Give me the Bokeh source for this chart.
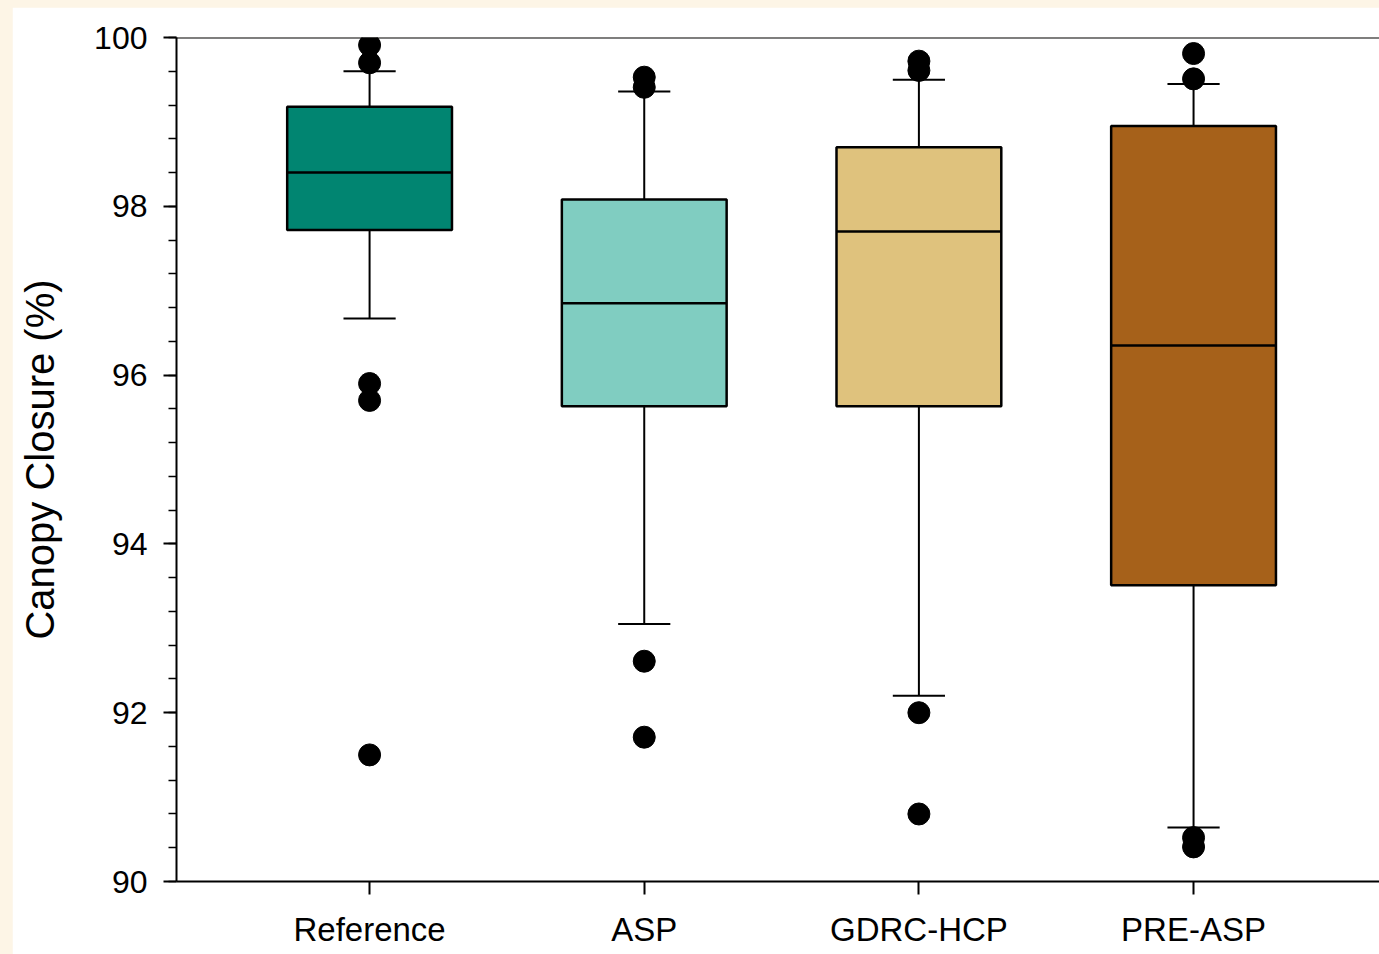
from bokeh.plotting import figure
from bokeh.models import Range1d, FixedTicker, Span
from bokeh.embed import file_html
from bokeh.resources import INLINE

categories = ["Reference", "ASP", "GDRC-HCP", "PRE-ASP"]
colors = ["#018571", "#80cdc1", "#dfc27d", "#a6611a"]
q1 = [97.72, 95.63, 95.63, 93.51]
median = [98.40, 96.85, 97.70, 96.35]
q3 = [99.18, 98.08, 98.70, 98.95]
lower_whisker = [96.67, 93.05, 92.20, 90.64]
upper_whisker = [99.60, 99.36, 99.50, 99.45]
outliers = [
    [99.91, 99.70, 95.90, 95.70, 91.50],
    [99.53, 99.41, 92.61, 91.71],
    [99.72, 99.61, 92.00, 90.80],
    [99.81, 99.51, 90.52, 90.41],
]
y_ticks = [90, 92, 94, 96, 98, 100]

xpos = list(range(1, len(categories) + 1))
box_w = 0.6
cap_w = 0.19
FONT = "Liberation Sans"
LC = "black"

p = figure(width=1367, height=947, output_backend="svg", toolbar_location=None,
           x_range=Range1d(0.297, 4.677), y_range=Range1d(90, 100),
           min_border_left=164, min_border_right=0, min_border_top=30, min_border_bottom=73)
p.margin = (7, 0, 0, 12)
p.background_fill_color = "white"
p.border_fill_color = "white"
p.outline_line_color = None
p.grid.visible = False

# whiskers
p.segment(x0=xpos, x1=xpos, y0=q3, y1=upper_whisker, line_color=LC, line_width=2)
p.segment(x0=xpos, x1=xpos, y0=q1, y1=lower_whisker, line_color=LC, line_width=2)
# caps
p.segment(x0=[x - cap_w / 2 for x in xpos], x1=[x + cap_w / 2 for x in xpos],
          y0=upper_whisker, y1=upper_whisker, line_color=LC, line_width=2)
p.segment(x0=[x - cap_w / 2 for x in xpos], x1=[x + cap_w / 2 for x in xpos],
          y0=lower_whisker, y1=lower_whisker, line_color=LC, line_width=2)
# boxes
p.vbar(x=xpos, bottom=q1, top=q3, width=box_w, fill_color=colors,
       line_color=LC, line_width=2.5)
# medians
p.segment(x0=[x - box_w / 2 for x in xpos], x1=[x + box_w / 2 for x in xpos],
          y0=median, y1=median, line_color=LC, line_width=2.5)
# outliers
ox, oy = [], []
for x, vals in zip(xpos, outliers):
    for v in vals:
        ox.append(x)
        oy.append(v)
p.scatter(ox, oy, size=22, fill_color="black", line_color="black")

# top frame line
p.add_layout(Span(location=100, dimension="width", line_color=LC, line_width=2))

xa = p.xaxis[0]
xa.ticker = FixedTicker(ticks=xpos)
xa.major_label_overrides = {x: c for x, c in zip(xpos, categories)}
xa.minor_tick_line_color = None
xa.major_tick_in = 0
xa.major_tick_out = 13
xa.major_label_standoff = 16
xa.axis_line_width = 2
xa.major_tick_line_width = 2
xa.axis_line_color = LC
xa.major_tick_line_color = LC
xa.major_label_text_font = FONT
xa.major_label_text_font_size = "33px"
xa.major_label_text_color = "black"

ya = p.yaxis[0]
ya.ticker = FixedTicker(ticks=y_ticks, minor_ticks=[90 + 0.4 * i for i in range(26)])
ya.major_tick_in = 0
ya.major_tick_out = 13
ya.minor_tick_in = 0
ya.minor_tick_out = 8
ya.axis_line_width = 2
ya.major_tick_line_width = 2
ya.minor_tick_line_width = 1.5
ya.axis_line_color = LC
ya.major_tick_line_color = LC
ya.minor_tick_line_color = LC
ya.major_label_standoff = 16
ya.major_label_text_font = FONT
ya.major_label_text_font_size = "32px"
ya.major_label_text_color = "black"
ya.axis_label = "Canopy Closure (%)"
ya.axis_label_text_font = FONT
ya.axis_label_text_font_size = "40px"
ya.axis_label_text_font_style = "normal"
ya.axis_label_text_color = "black"
ya.axis_label_standoff = 29

html = file_html(p, INLINE)
html = html.replace("<head>", "<head><style>html,body{background:#fdf5e6;margin:0;padding:0;}</style>", 1)
open("out.html", "w").write(html)
